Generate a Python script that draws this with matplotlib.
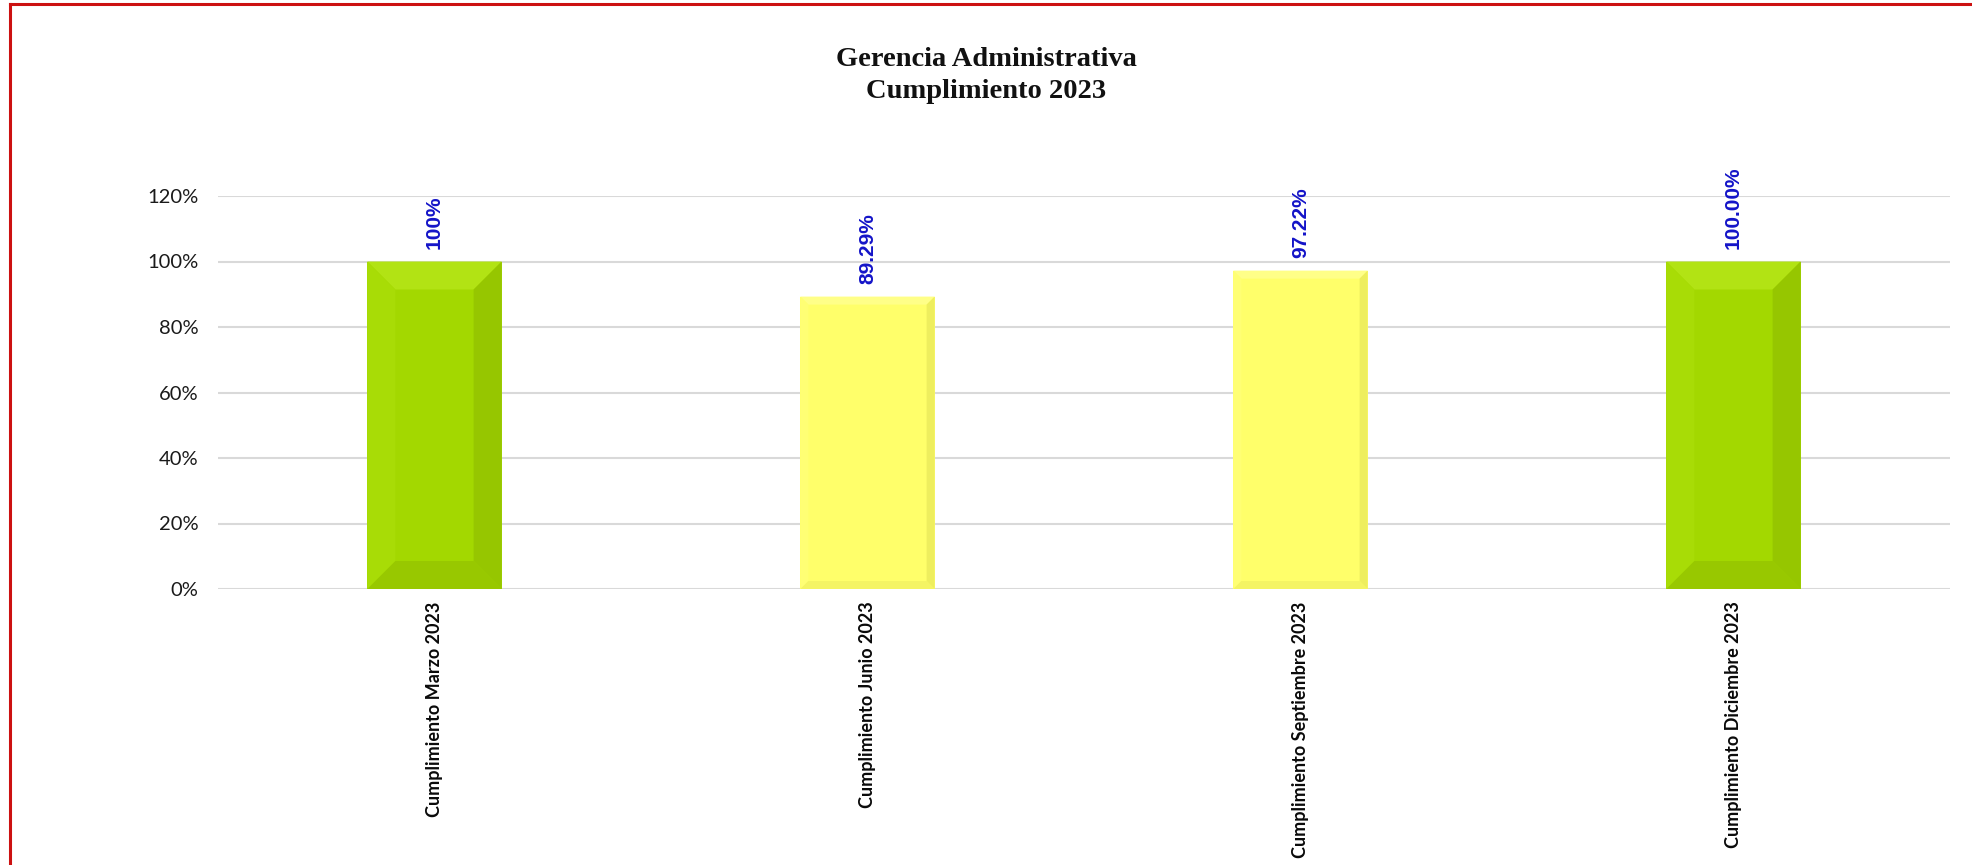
import matplotlib
matplotlib.use("Agg")
import matplotlib.pyplot as plt
from matplotlib.patches import Polygon
from matplotlib.lines import Line2D

# ------------------------------------------------------------
# Data
# ------------------------------------------------------------
categories = [
    "Cumplimiento Marzo 2023",
    "Cumplimiento Junio 2023",
    "Cumplimiento Septiembre 2023",
    "Cumplimiento Diciembre 2023",
]
values = [1.00, 0.8929, 0.9722, 1.00]
value_labels = ["100%", "89.29%", "97.22%", "100.00%"]
y_ticks = [0.0, 0.2, 0.4, 0.6, 0.8, 1.0, 1.2]
y_tick_labels = ["0%", "20%", "40%", "60%", "80%", "100%", "120%"]

# bar styles: (base, top bevel, left bevel, right bevel, bottom bevel, bevel px)
GREEN = ("#a3d800", "#b2e314", "#a8dc06", "#96c600", "#98c800", 28)
YELLOW = ("#ffff6a", "#ffff88", "#ffff74", "#eeee5e", "#f4f464", 8)
bar_styles = [GREEN, YELLOW, YELLOW, GREEN]

# ------------------------------------------------------------
# Figure
# ------------------------------------------------------------
W, H = 1972, 865
fig = plt.figure(figsize=(W / 100, H / 100), dpi=100)
ax = fig.add_axes([218 / W, 276 / H, (1950 - 218) / W, 393 / H])

x = list(range(len(categories)))
bar_w = 0.31
bars = ax.bar(x, values, width=bar_w, color=[s[0] for s in bar_styles],
              zorder=3, linewidth=0)

ax.set_xlim(-0.5, len(categories) - 0.5)
ax.set_ylim(0, 1.2)

# px -> data units
px_x = (len(categories)) / (1950 - 218)
px_y = 1.2 / 393

# bevel effect on each bar
for b, st in zip(bars, bar_styles):
    x0, y0 = b.get_x(), b.get_y()
    x1, y1 = x0 + b.get_width(), y0 + b.get_height()
    dx, dy = st[5] * px_x, st[5] * px_y
    top = [(x0, y1), (x1, y1), (x1 - dx, y1 - dy), (x0 + dx, y1 - dy)]
    left = [(x0, y0), (x0 + dx, y0 + dy), (x0 + dx, y1 - dy), (x0, y1)]
    right = [(x1, y0), (x1, y1), (x1 - dx, y1 - dy), (x1 - dx, y0 + dy)]
    bottom = [(x0, y0), (x1, y0), (x1 - dx, y0 + dy), (x0 + dx, y0 + dy)]
    for pts, col in [(top, st[1]), (left, st[2]), (right, st[3]), (bottom, st[4])]:
        ax.add_patch(Polygon(pts, closed=True, facecolor=col, edgecolor="none", zorder=4))

# value labels
for xi, v, lab in zip(x, values, value_labels):
    ax.annotate(lab, (xi, v), xytext=(0, 9), textcoords="offset points",
                rotation=90, ha="center", va="bottom", color="#1414c8",
                fontsize=15, fontweight="bold", family="Liberation Sans", zorder=5)

# axes styling
ax.set_yticks(y_ticks)
ax.set_yticklabels(y_tick_labels, family="Lato", fontsize=14.5, color="#1a1a1a")
ax.set_xticks(x)
ax.set_xticklabels(categories, rotation=90, family="Lato", fontweight="bold",
                   fontsize=13, color="#0a0a0a", va="top")
ax.tick_params(axis="both", length=0)
ax.tick_params(axis="y", pad=14)
ax.tick_params(axis="x", pad=9)
ax.yaxis.grid(True, color="#d9d9d9", linewidth=1.5, zorder=0)
for s in ax.spines.values():
    s.set_visible(False)

# title
fig.text(0.5, 1 - 60 / H, "Gerencia Administrativa", ha="center", va="center",
         family="Liberation Serif", fontweight="bold", fontsize=20.5, color="#111111")
fig.text(0.5, 1 - 91 / H, "Cumplimiento 2023", ha="center", va="center",
         family="Liberation Serif", fontweight="bold", fontsize=20.5, color="#111111")

# red frame (cropped screenshot: only top and left edges visible)
fig.add_artist(Line2D([10 / W, 1.01], [1 - 4 / H, 1 - 4 / H], color="#cc1111",
                      linewidth=2.2, transform=fig.transFigure))
fig.add_artist(Line2D([10 / W, 10 / W], [-0.01, 1 - 4 / H], color="#cc1111",
                      linewidth=2.2, transform=fig.transFigure))

fig.savefig("out.png", dpi=100)
